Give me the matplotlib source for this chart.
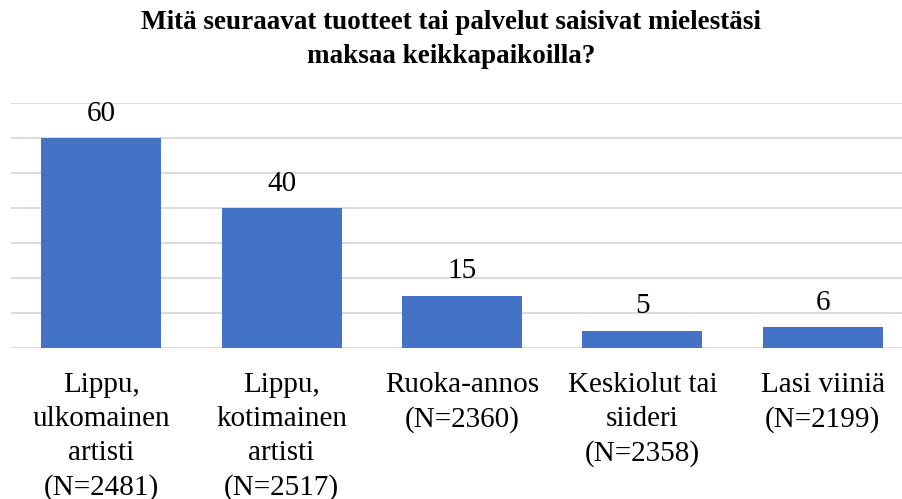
import matplotlib.pyplot as plt

categories = ["Lippu,\nulkomainen\nartisti\n(N=2481)",
              "Lippu,\nkotimainen\nartisti\n(N=2517)",
              "Ruoka-annos\n(N=2360)",
              "Keskiolut tai\nsiideri\n(N=2358)",
              "Lasi viiniä\n(N=2199)"]
values = [60, 40, 15, 5, 6]
yticks = [0, 10, 20, 30, 40, 50, 60, 70]

plt.rcParams['font.family'] = ['Liberation Serif', 'DejaVu Serif']

fig = plt.figure(figsize=(9.02, 4.99), dpi=100)
ax = fig.add_axes([11 / 902, 1 - 348 / 499, 902 / 902, 245 / 499])

x = range(len(values))
bars = ax.bar(x, values, width=0.665, color='#4472C4', zorder=3)

ax.set_xlim(-0.5, 4.5)
ax.set_ylim(0, 70)
ax.set_yticks(yticks)
ax.yaxis.grid(True, color='#d9d9d9', linewidth=1.3, zorder=0)
ax.tick_params(axis='y', left=False, labelleft=False)
ax.tick_params(axis='x', length=0, pad=17)
ax.set_xticks(list(x))
ax.set_xticklabels(categories, fontsize=21, linespacing=1.41)
for sp in ax.spines.values():
    sp.set_visible(False)

for b, v in zip(bars, values):
    ax.annotate(str(v), (b.get_x() + b.get_width() / 2, v),
                xytext=(0, 8), textcoords='offset points',
                ha='center', va='bottom', fontsize=21)

fig.text(0.5, 1 - 10 / 499, "Mitä seuraavat tuotteet tai palvelut saisivat mielestäsi\nmaksaa keikkapaikoilla?",
         ha='center', va='top', fontsize=19.5, fontweight='bold', linespacing=1.45)

fig.savefig("out.png", dpi=100)
